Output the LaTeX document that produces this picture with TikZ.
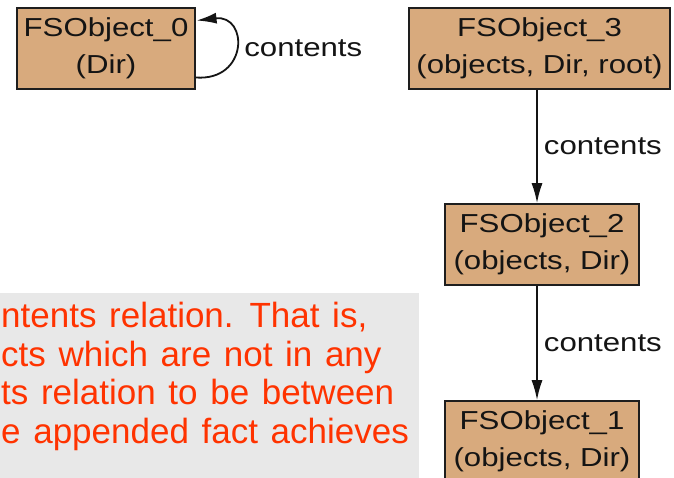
\documentclass[tikz,border=0pt]{standalone}
\usepackage{fontspec}
\setmainfont{Liberation Sans}
\newfontfamily\graphfont[FakeStretch=1.2]{Liberation Sans}
\newfontfamily\notefont[WordSpace=1.3]{Liberation Sans}
\usetikzlibrary{arrows.meta,calc}

\definecolor{boxfill}{RGB}{216,170,125}
\definecolor{boxline}{RGB}{30,30,30}
\definecolor{panelgray}{RGB}{232,232,232}
\definecolor{notered}{RGB}{255,51,0}
\definecolor{inkdark}{RGB}{20,20,20}

\tikzset{
  objbox/.style={draw=boxline, line width=1.6pt, fill=boxfill,
    minimum height=81pt, inner sep=0pt, align=center, text=inkdark,
    font=\graphfont\fontsize{26}{37}\selectfont},
  relation/.style={draw=inkdark, line width=1.8pt,
    -{Latex[length=20pt,width=11pt]}},
  rellabel/.style={anchor=west, inner sep=0pt, text=inkdark,
    font=\graphfont\fontsize{26}{31}\selectfont},
  noteline/.style={anchor=base west, inner sep=0pt, text=notered,
    font=\notefont\fontsize{35}{40}\selectfont}
}

\begin{document}
\begin{tikzpicture}[x=1pt, y=-1pt]
  \useasboundingbox (0,0) rectangle (674,478);
  \fill[white] (0,0) rectangle (674,478);

  % note panel with its text
  \fill[panelgray] (0,293) rectangle (419,480);
  \node[noteline] (t1) at (1,327) {ntents relation. That is,};
  \node[noteline] (t2) at (1,366) {cts which are not in any};
  \node[noteline] (t3) at (1,404) {ts relation to be between};
  \node[noteline] (t4) at (1,443) {e appended fact achieves};

  % objects
  \node[objbox, minimum width=177.5pt] (o0) at (106,48.5) {FSObject\_0\\(Dir)};
  \node[objbox, minimum width=261pt] (o3) at (539.5,48.5) {FSObject\_3\\(objects, Dir, root)};
  \node[objbox, minimum width=194pt] (o2) at (542,244.5) {FSObject\_2\\(objects, Dir)};
  \node[objbox, minimum width=194pt] (o1) at (542,441.5) {FSObject\_1\\(objects, Dir)};

  % contents relation
  \draw[relation] ([yshift=-29pt]o0.east)
    .. controls ([xshift=53pt,yshift=-33pt]o0.east) and ([xshift=53pt,yshift=34pt]o0.east)
    .. ([xshift=1pt,yshift=28pt]o0.east)
    node[rellabel, pos=0.5, xshift=8pt] (l0) {contents};
  \draw[relation] ([xshift=-2.5pt]o3.south) -- ([xshift=-5pt]o2.north)
    node[rellabel, midway, xshift=6pt] (l3) {contents};
  \draw[relation] ([xshift=-5pt]o2.south) -- ([xshift=-5pt]o1.north)
    node[rellabel, midway, xshift=6pt] (l2) {contents};
\end{tikzpicture}
\end{document}
